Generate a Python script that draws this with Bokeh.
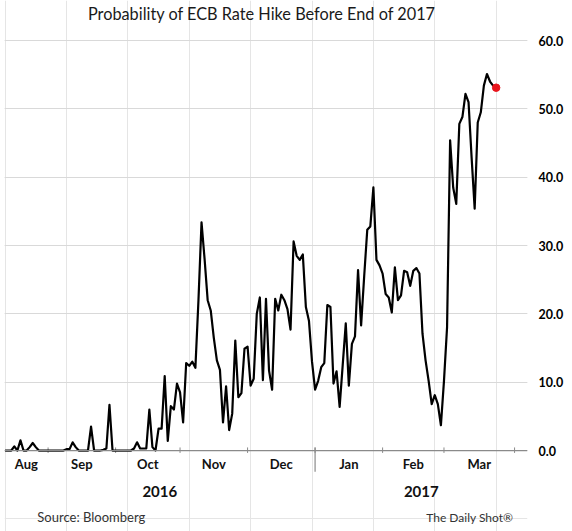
import numpy as np
import pandas as pd
from bokeh.plotting import figure
from bokeh.models import (Range1d, LinearAxis, FixedTicker, PrintfTickFormatter,
                          Grid, Span)
from bokeh.core.properties import value
from bokeh.embed import file_html
from bokeh.resources import INLINE

# ---------------- data (business days, 2016-08-12 .. 2017-03-24) ----------------
start_date = "2016-08-12"
prob = [
    0, 0, 0, 0.6, 0, 1.5, 0, 0, 0.5, 1.1,
    0.5, 0, 0, 0, 0, 0, 0, 0, 0, 0,
    0.2, 0.2, 1.2, 0.5, 0, 0, 0, 0, 3.5, 0,
    0, 0, 0.1, 0.3, 6.7, 0, 0, 0, 0, 0,
    0, 0, 0.3, 1.2, 0.3, 0.3, 0.3, 6.0, 0.5, 0,
    3.2, 3.2, 10.9, 1.4, 6.5, 6.0, 9.8, 8.5, 4.1, 12.8,
    12.4, 13.0, 12.1, 22.0, 33.4, 28.0, 22.0, 20.5, 16.5, 13.2,
    11.8, 4.1, 9.4, 3.0, 5.4, 16.1, 7.8, 8.4, 14.9, 15.2,
    9.5, 10.5, 20.0, 22.4, 10.3, 22.2, 11.7, 8.9, 22.2, 20.5,
    22.8, 22.0, 20.7, 17.7, 30.6, 28.5, 27.9, 28.7, 21.0, 19.0,
    13.0, 8.9, 10.2, 12.2, 12.8, 21.3, 21.0, 9.8, 11.6, 6.4,
    12.5, 18.6, 9.5, 15.6, 16.7, 26.4, 18.3, 25.5, 32.3, 32.8,
    38.5, 27.9, 27.1, 25.9, 22.9, 22.4, 20.2, 26.8, 22.0, 22.7,
    26.3, 26.1, 24.1, 26.3, 26.7, 25.9, 17.1, 13.2, 10.2, 6.8,
    8.1, 6.8, 3.7, 10.2, 18.0, 45.4, 38.5, 36.1, 47.8, 48.8,
    52.2, 51.0, 42.9, 35.4, 48.0, 49.5, 53.4, 55.1, 54.0, 53.4,
    53.1,
]
month_labels = ["Aug", "Sep", "Oct", "Nov", "Dec", "Jan", "Feb", "Mar"]
year_labels = ["2016", "2017"]
y_ticks = [0, 10, 20, 30, 40, 50, 60]
title_text = "Probability of ECB Rate Hike Before End of 2017"
source_text = "Source: Bloomberg"
credit_text = "The Daily Shot\u00ae"

# ---------------- derived positions ----------------
dates = pd.bdate_range(start_date, periods=len(prob))
idx = np.arange(len(prob))
ext = pd.bdate_range(start_date, "2017-04-28")
month_key = ext.year * 12 + ext.month
first_idx = [i for i in range(1, len(ext)) if month_key[i] != month_key[i - 1]]
bounds = first_idx[:8]          # Sep 1 ... Apr 3 boundaries
year_break = [i for i in first_idx if ext[i].month == 1][0]

W, H = 572, 531
LEFT, RIGHT = 4, 45
PX_PER_DAY = 3.069
X0 = -0.2
X1 = X0 + (W - LEFT - RIGHT) / PX_PER_DAY
Y0, Y1 = -11.85, 65.86

FONT = "Lato"

p = figure(width=W, height=H, output_backend="svg", toolbar_location=None,
           x_range=Range1d(X0, X1), y_range=Range1d(Y0, Y1),
           x_axis_location=None, y_axis_location=None,
           min_border_left=LEFT, min_border_right=RIGHT, min_border_top=0,
           min_border_bottom=0)
p.outline_line_color = None
p.background_fill_color = "white"
p.border_fill_color = "white"

yaxis = LinearAxis(ticker=FixedTicker(ticks=y_ticks),
                   formatter=PrintfTickFormatter(format="%.1f"))
yaxis.axis_line_color = None
yaxis.major_tick_line_color = None
yaxis.minor_tick_line_color = None
yaxis.major_tick_in = 0
yaxis.major_tick_out = 0
yaxis.major_label_standoff = 11
yaxis.major_label_text_font = FONT
yaxis.major_label_text_font_style = "bold"
yaxis.major_label_text_font_size = "12.5px"
yaxis.major_label_text_color = "#000000"
p.add_layout(yaxis, "right")
p.add_layout(Grid(dimension=1, ticker=yaxis.ticker, grid_line_color="#d9d9d9",
                  grid_line_width=1))

# x axis line
p.add_layout(Span(location=0, dimension="width", line_color="#8a8a8a", line_width=1.2))

# tick marks at month boundaries
p.segment(x0=bounds, x1=bounds, y0=[-0.35] * len(bounds), y1=[0.45] * len(bounds),
          line_color="#8a8a8a", line_width=1)
p.segment(x0=[year_break], x1=[year_break], y0=[-3.1], y1=[0.45],
          line_color="#8a8a8a", line_width=1.2)

# data line and last point
p.line(idx, prob, line_color="black", line_width=2.2, line_join="round")
p.scatter([idx[-1]], [prob[-1]], size=7.5, color="#e8141c")

# month labels (centered between boundaries)
edges = [X0] + bounds
mid = [(edges[i] + edges[i + 1]) / 2 for i in range(len(month_labels))]
p.text(x=mid, y=[-1.9] * len(mid), text=month_labels, text_align="center",
       text_baseline="middle", text_font=value(FONT), text_font_style="bold",
       text_font_size="13px", text_color="#111111")

# year labels
ymid = [(X0 + year_break) / 2, (year_break + X1) / 2]
p.text(x=ymid, y=[-6.0, -6.0], text=year_labels, text_align="center",
       text_baseline="middle", text_font=value(FONT), text_font_style="bold",
       text_font_size="15px", text_color="#111111")

# title
p.text(x=[83.7], y=[64.0], text=[title_text], text_align="center",
       text_baseline="middle", text_font=value(FONT), text_font_size="16.3px",
       text_color="#1a1a1a")

# sources
p.text(x=[10.5], y=[-9.8], text=[source_text], text_align="left",
       text_baseline="middle", text_font=value(FONT), text_font_size="13px",
       text_color="#333333")
p.text(x=[165.6], y=[-9.8], text=[credit_text], text_align="right",
       text_baseline="middle", text_font=value(FONT), text_font_size="12px",
       text_color="#333333")

open("out.html", "w").write(file_html(p, INLINE))
